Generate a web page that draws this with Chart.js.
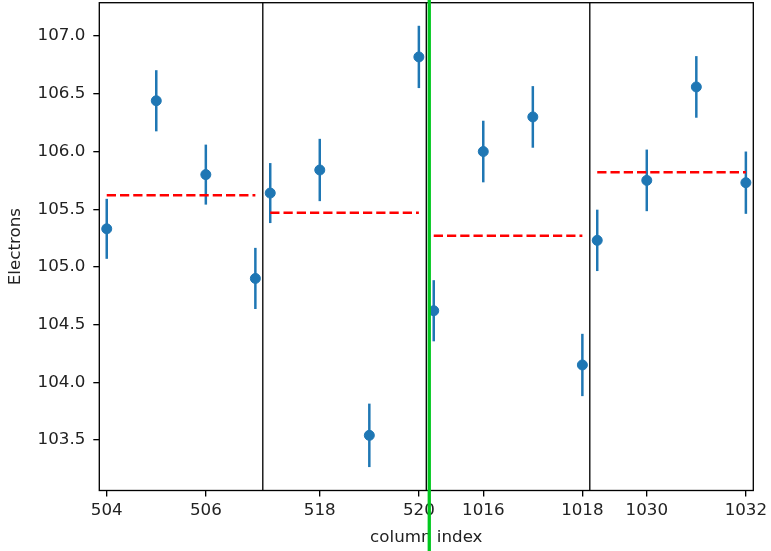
<!DOCTYPE html>
<html>
<head>
<meta charset="utf-8">
<script src="https://cdn.jsdelivr.net/npm/chart.js@4.4.0/dist/chart.umd.min.js"></script>
<style>
  body { margin: 0; background: #fff; }
  canvas { display: block; }
</style>
</head>
<body>
<canvas id="c" width="771" height="551"></canvas>
<script>
// pixel columns, grouped in four panels of four
const columns = [504, 505, 506, 507, 517, 518, 519, 520, 1015, 1016, 1017, 1018, 1029, 1030, 1031, 1032];
const electrons = [105.33, 106.44, 105.80, 104.90, 105.64, 105.84, 103.54, 106.82,
                   104.62, 106.00, 106.30, 104.15, 105.23, 105.75, 106.56, 105.73];
const errors = [0.26, 0.265, 0.26, 0.265, 0.26, 0.27, 0.275, 0.27,
                0.265, 0.267, 0.267, 0.27, 0.266, 0.267, 0.267, 0.27];
const panelStarts = [504, 517, 1015, 1029];
const panelMeans = [105.62, 105.47, 105.27, 105.82];
const xTickLabels = [504, 506, 518, 520, 1016, 1018, 1030, 1032];
const yTickValues = [103.5, 104.0, 104.5, 105.0, 105.5, 106.0, 106.5, 107.0];
const markerAt = 6.51;   // green marker, in panel-axis units

const panelWidth = 3.3;
const font = { family: 'DejaVu Sans', size: 16.7 };

// map a column number onto the shared x axis (panels laid side by side)
function xPos(col) {
  let g = panelStarts.length - 1;
  while (col < panelStarts[g]) g--;
  return g * panelWidth + (col - panelStarts[g]);
}

const points = columns.map((c, i) => ({ x: xPos(c), y: electrons[i] }));

const meanSets = panelStarts.map((s, g) => ({
  type: 'line',
  data: [{ x: xPos(s), y: panelMeans[g] }, { x: xPos(s + 3), y: panelMeans[g] }],
  borderColor: '#ff0000',
  borderWidth: 2.5,
  borderDash: [9.25, 4],
  pointRadius: 0,
  fill: false,
  order: 0
}));

const errorBars = {
  id: 'errorBars',
  beforeDatasetsDraw(chart) {
    const { ctx, scales: { x, y } } = chart;
    ctx.save();
    ctx.strokeStyle = '#1f77b4';
    ctx.lineWidth = 2.5;
    points.forEach((p, i) => {
      const px = x.getPixelForValue(p.x);
      ctx.beginPath();
      ctx.moveTo(px, y.getPixelForValue(p.y - errors[i]));
      ctx.lineTo(px, y.getPixelForValue(p.y + errors[i]));
      ctx.stroke();
    });
    ctx.restore();
  }
};

const frame = {
  id: 'frame',
  afterDatasetsDraw(chart) {
    const { ctx, chartArea: a, scales: { x } } = chart;
    ctx.save();
    ctx.strokeStyle = '#000';
    ctx.lineWidth = 1.33;
    ctx.strokeRect(a.left, a.top, a.right - a.left, a.bottom - a.top);
    for (let g = 1; g < panelStarts.length; g++) {
      const px = x.getPixelForValue(g * panelWidth - 0.15);
      ctx.beginPath();
      ctx.moveTo(px, a.top);
      ctx.lineTo(px, a.bottom);
      ctx.stroke();
    }
    ctx.restore();
  },
  afterDraw(chart) {
    const { ctx, scales: { x } } = chart;
    const px = x.getPixelForValue(markerAt);
    ctx.save();
    ctx.strokeStyle = '#00c81e';
    ctx.lineWidth = 3.3;
    ctx.beginPath();
    ctx.moveTo(px, 0);
    ctx.lineTo(px, chart.height);
    ctx.stroke();
    ctx.restore();
  }
};

new Chart(document.getElementById('c').getContext('2d'), {
  type: 'scatter',
  data: {
    datasets: [{
      data: points,
      backgroundColor: '#1f77b4',
      borderColor: '#1f77b4',
      pointRadius: 5,
      pointHoverRadius: 5,
      order: 1
    }, ...meanSets]
  },
  options: {
    responsive: false,
    devicePixelRatio: 1,
    animation: false,
    layout: { autoPadding: false, padding: { left: 0, top: 2.7, right: 17.7, bottom: 0 } },
    plugins: { legend: { display: false }, tooltip: { enabled: false } },
    scales: {
      x: {
        type: 'linear',
        min: -0.15,
        max: panelStarts.length * panelWidth - 0.15,
        afterBuildTicks: s => { s.ticks = xTickLabels.map(c => ({ value: xPos(c) })); },
        afterFit: s => { s.height = 60.5; s.paddingLeft = 0; s.paddingRight = 0; },
        border: { display: false },
        grid: { drawOnChartArea: false, drawTicks: true, tickLength: 6, tickColor: '#000', lineWidth: 1.33 },
        ticks: {
          autoSkip: false, maxRotation: 0, padding: 4, color: '#222', font,
          callback: (v, i) => String(xTickLabels[i])
        },
        title: { display: true, text: 'column index', color: '#222', font, padding: { top: 0, bottom: 3 } }
      },
      y: {
        min: 103.062,
        max: 107.29,
        afterBuildTicks: s => { s.ticks = yTickValues.map(v => ({ value: v })); },
        afterFit: s => { s.width = 99.3; s.paddingTop = 0; s.paddingBottom = 0; },
        border: { display: false },
        grid: { drawOnChartArea: false, drawTicks: true, tickLength: 6, tickColor: '#000', lineWidth: 1.33 },
        ticks: { padding: 8, color: '#222', font, callback: v => v.toFixed(1) },
        title: { display: true, text: 'Electrons', color: '#222', font, padding: { top: 5.5, bottom: 0 } }
      }
    }
  },
  plugins: [errorBars, frame]
});
</script>
</body>
</html>
